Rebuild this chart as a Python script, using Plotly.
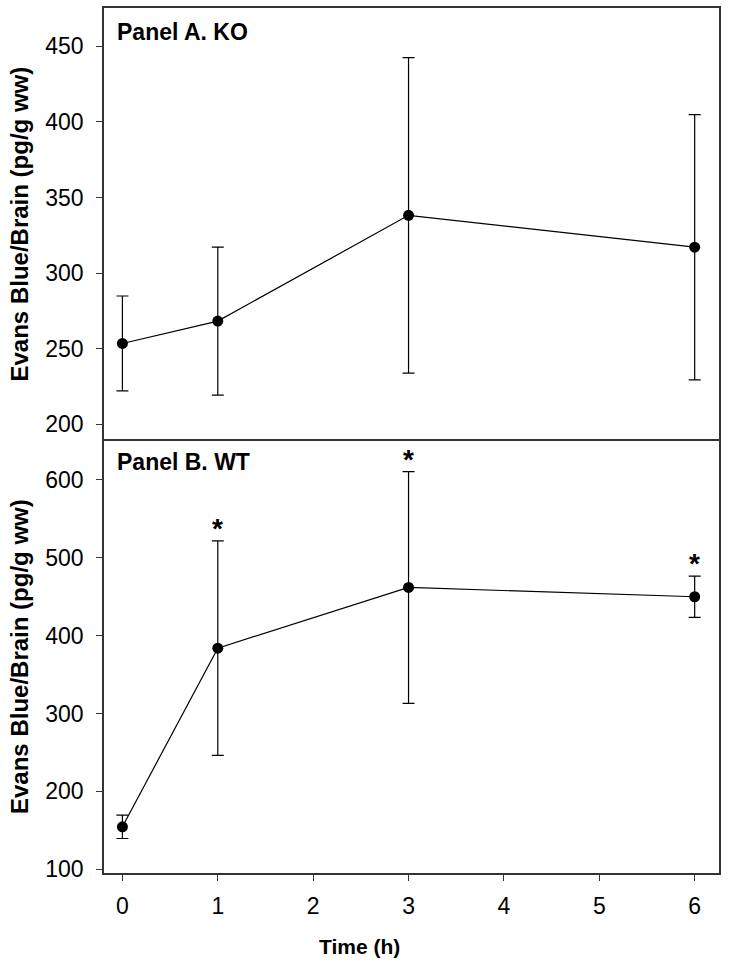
import plotly.graph_objects as go

# ---- data ----
times = [0, 1, 3, 6]
x_ticks = [0, 1, 2, 3, 4, 5, 6]

ko_mean = [253.4, 268.2, 338.2, 317.1]
ko_sd = [31.4, 49.0, 104.4, 87.8]

wt_mean = [154.5, 384.0, 461.9, 450.0]
wt_sd = [15.0, 137.8, 148.9, 26.5]
wt_signif = [False, True, True, True]

ko_ticks = [200, 250, 300, 350, 400, 450]
wt_ticks = [100, 200, 300, 400, 500, 600]

ytitle = "Evans Blue/Brain (pg/g ww)"
xtitle = "Time (h)"
panelA = "Panel A. KO"
panelB = "Panel B. WT"

FONT = "Liberation Sans, Arial, sans-serif"
W, H = 729, 969
ML, MR, MT, MB = 104, 10, 8, 96
PW = W - ML - MR
PH = H - MT - MB

fig = go.Figure()

def add_series(means, sds, xaxis, yaxis):
    fig.add_trace(go.Scatter(
        x=times, y=means, mode="lines+markers",
        line=dict(color="black", width=1.2),
        marker=dict(color="black", size=11),
        error_y=dict(type="data", array=sds, visible=True,
                     color="black", thickness=1.2, width=6),
        xaxis=xaxis, yaxis=yaxis, showlegend=False,
    ))

add_series(ko_mean, ko_sd, "x2", "y2")
add_series(wt_mean, wt_sd, "x", "y")

LC = "#333333"
tickfont = dict(family=FONT, size=23, color="black")

fig.update_layout(
    width=W, height=H,
    margin=dict(l=ML, r=MR, t=MT, b=MB),
    paper_bgcolor="white", plot_bgcolor="white",
    xaxis=dict(range=[-0.193, 6.255], tickvals=x_ticks, ticks="outside", ticklen=6,
               tickcolor=LC, tickfont=tickfont, anchor="y", ticklabelstandoff=6,
               showline=True, linecolor=LC, linewidth=1.5, mirror=True,
               showgrid=False, zeroline=False),
    xaxis2=dict(range=[-0.193, 6.255], showticklabels=False, ticks="", anchor="y2",
                side="top", matches="x", showline=True, linecolor=LC, linewidth=1.5,
                mirror=False, showgrid=False, zeroline=False),
    yaxis=dict(domain=[0, 0.4995], range=[95.2, 650.1], tickvals=wt_ticks,
               ticks="outside", ticklen=6, tickcolor=LC, tickfont=tickfont,
               ticklabelstandoff=8, anchor="x", showline=True, linecolor=LC,
               linewidth=1.5, mirror=True, showgrid=False, zeroline=False),
    yaxis2=dict(domain=[0.4995, 1], range=[188.9, 475.4], tickvals=ko_ticks,
                ticks="outside", ticklen=6, tickcolor=LC, tickfont=tickfont,
                ticklabelstandoff=8, anchor="x2", showline=True, linecolor=LC,
                linewidth=1.5, mirror=True, showgrid=False, zeroline=False),
)

def px_x(p):
    return (p - ML) / PW

def px_y(p):
    return (H - MB - p) / PH

ann = []
# y titles
for yc in [(8 + 441) / 2, (441 + 873) / 2]:
    ann.append(dict(text=f"<b>{ytitle}</b>", textangle=-90, xref="paper", yref="paper",
                    x=px_x(19), y=px_y(yc), xanchor="center", yanchor="middle",
                    showarrow=False, font=dict(family=FONT, size=24, color="black")))
# x title
ann.append(dict(text=f"<b>{xtitle}</b>", xref="paper", yref="paper",
                x=px_x(359), y=px_y(946), xanchor="center", yanchor="middle",
                showarrow=False, font=dict(family=FONT, size=21, color="black")))
# panel labels
ann.append(dict(text=f"<b>{panelA}</b>", xref="paper", yref="paper",
                x=px_x(115), y=px_y(32), xanchor="left", yanchor="middle",
                showarrow=False, font=dict(family=FONT, size=23, color="black")))
ann.append(dict(text=f"<b>{panelB}</b>", xref="paper", yref="paper",
                x=px_x(115), y=px_y(462), xanchor="left", yanchor="middle",
                showarrow=False, font=dict(family=FONT, size=23, color="black")))
# significance asterisks
for t, m, s, sig in zip(times, wt_mean, wt_sd, wt_signif):
    if sig:
        ann.append(dict(text="<b>*</b>", x=t, y=m + s, xref="x", yref="y",
                        xanchor="center", yanchor="bottom", yshift=-5,
                        showarrow=False, font=dict(family=FONT, size=28, color="black")))

fig.update_layout(annotations=ann)

fig.write_html(
    "out.html",
    config={"displayModeBar": False},
    post_script="document.body.style.margin='0';document.body.style.overflow='hidden';",
)
